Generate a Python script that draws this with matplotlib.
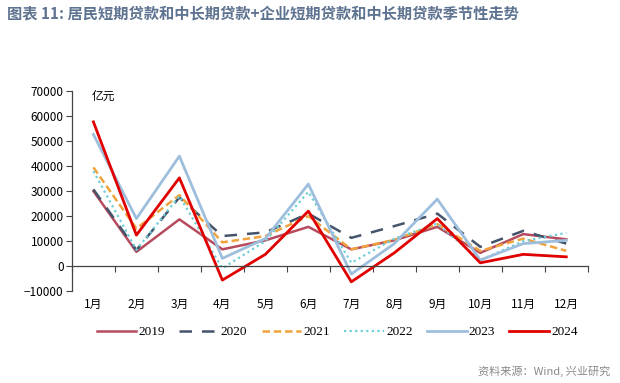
import numpy as np
import matplotlib
matplotlib.use("Agg")
import matplotlib.pyplot as plt

plt.rcParams['font.family'] = ['Noto Sans CJK SC', 'DejaVu Sans']

months = ['1月', '2月', '3月', '4月', '5月', '6月', '7月', '8月', '9月', '10月', '11月', '12月']
y2019 = [30000, 5700, 18700, 6700, 10300, 15700, 6700, 10300, 15700, 5300, 12800, 10700]
y2020 = [30700, 6400, 27500, 12000, 13500, 21000, 11300, 16000, 21000, 7700, 14100, 9000]
y2021 = [39500, 15000, 28400, 9500, 12000, 20000, 6700, 10500, 16800, 6100, 11000, 6100]
y2022 = [38000, 6500, 28000, -900, 10000, 29700, 1300, 11000, 17000, 2400, 10000, 13300]
y2023 = [52700, 19000, 44000, 3100, 11000, 32800, -3200, 9000, 26800, 2400, 9000, 10300]
y2024 = [57700, 12400, 35300, -5600, 4700, 22000, -6300, 5300, 19000, 1300, 4700, 3700]

fig = plt.figure(figsize=(6.2, 3.83), dpi=100)
ax = fig.add_axes([0.116, 0.240, 0.832, 0.522])

x = np.arange(len(months))
ax.plot(x, y2019, color='#B84A5E', lw=1.8, label='2019')
ax.plot(x, y2020, color='#44546A', lw=1.8, ls=(0, (5, 4)), label='2020')
ax.plot(x, y2021, color='#F0A33C', lw=1.8, ls=(0, (3, 1.5)), label='2021')
ax.plot(x, y2022, color='#6DCFD6', lw=1.6, ls=(0, (1, 1.5)), label='2022')
ax.plot(x, y2023, color='#9DBEDC', lw=2.0, label='2023')
ax.plot(x, y2024, color='#E00000', lw=2.0, label='2024')

ax.set_xlim(-0.5, 11.5)
ax.set_ylim(-10000, 70000)
ax.set_yticks(range(-10000, 70001, 10000))
ax.tick_params(axis='y', labelsize=8.5, length=4, width=0.8, color='#444444', pad=2)

# category labels under the plot, tick marks between categories on the zero line
ax.spines['bottom'].set_position(('data', 0))
ax.set_xticks(x)
ax.set_xticklabels(months, fontsize=8.5)
ax.tick_params(axis='x', which='major', length=0, pad=23)
ax.set_xticks(np.arange(-0.5, 12, 1), minor=True)
ax.tick_params(axis='x', which='minor', length=4, width=0.8, color='#444444')

for s in ['top', 'right']:
    ax.spines[s].set_visible(False)
for s in ['left', 'bottom']:
    ax.spines[s].set_color('#444444')
    ax.spines[s].set_linewidth(0.9)

ax.text(-0.05, 66500, '亿元', fontsize=8.5, style='italic')

ax.legend(loc='center', bbox_to_anchor=(0.514, -0.205), ncol=6, frameon=False,
          prop={'family': 'Liberation Serif', 'size': 9.5}, handlelength=3.0,
          columnspacing=1.1, handletextpad=0.15, borderpad=0)

fig.text(0.012, 0.965, '图表 11: 居民短期贷款和中长期贷款+企业短期贷款和中长期贷款季节性走势',
         fontsize=11, fontweight='bold', color='#5E7390', va='center')
fig.text(0.985, 0.03, '资料来源：Wind, 兴业研究', fontsize=8, color='#888888', ha='right', va='center')

fig.savefig('out.png', dpi=100)
